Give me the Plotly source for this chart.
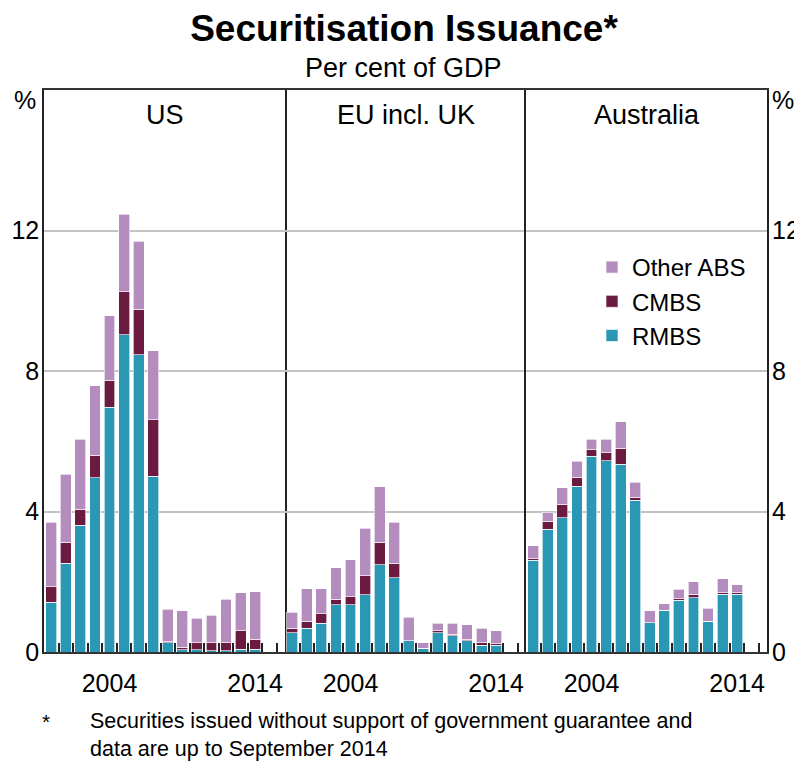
import plotly.graph_objects as go
from plotly.subplots import make_subplots

years = list(range(2000, 2015))
regions = ["US", "EU incl. UK", "Australia"]

# Per cent of GDP
us_rmbs  = [1.42, 2.52, 3.61, 4.96, 6.97, 9.03, 8.46, 5.01, 0.27, 0.06, 0.06, 0.03, 0.03, 0.08, 0.08]
us_cmbs  = [0.44, 0.60, 0.45, 0.64, 0.76, 1.23, 1.30, 1.60, 0.02, 0.07, 0.21, 0.24, 0.24, 0.52, 0.29]
us_other = [1.84, 1.94, 1.99, 1.98, 1.84, 2.20, 1.94, 1.97, 0.93, 1.04, 0.69, 0.77, 1.23, 1.08, 1.35]

eu_rmbs  = [0.55, 0.67, 0.82, 1.35, 1.35, 1.63, 2.48, 2.12, 0.32, 0.10, 0.55, 0.46, 0.32, 0.19, 0.19]
eu_cmbs  = [0.12, 0.20, 0.27, 0.15, 0.23, 0.54, 0.64, 0.41, 0.00, 0.00, 0.05, 0.04, 0.05, 0.08, 0.04]
eu_other = [0.46, 0.93, 0.71, 0.90, 1.04, 1.36, 1.58, 1.17, 0.67, 0.16, 0.22, 0.32, 0.40, 0.40, 0.37]

au_rmbs  = [2.61, 3.50, 3.82, 4.72, 5.57, 5.45, 5.35, 4.32, 0.83, 1.19, 1.47, 1.54, 0.88, 1.64, 1.64]
au_cmbs  = [0.05, 0.22, 0.39, 0.26, 0.19, 0.22, 0.45, 0.08, 0.00, 0.00, 0.04, 0.10, 0.00, 0.05, 0.05]
au_other = [0.36, 0.26, 0.46, 0.45, 0.30, 0.39, 0.76, 0.44, 0.35, 0.19, 0.27, 0.36, 0.36, 0.40, 0.22]

data = [
    (us_rmbs, us_cmbs, us_other),
    (eu_rmbs, eu_cmbs, eu_other),
    (au_rmbs, au_cmbs, au_other),
]
series_names = ["RMBS", "CMBS", "Other ABS"]
colors = {"RMBS": "#2A97B5", "CMBS": "#6B1A40", "Other ABS": "#B48DBE"}

x_labels = [2004, 2014]
y_ticks = [0, 4, 8, 12]
year_bounds = [y + 0.5 for y in years] + [years[-1] + 1.5]

FONT = "Liberation Sans, Arial, sans-serif"
OFF = 8  # default page body margin
PAGE_W, PAGE_H = 802, 769
W, H = PAGE_W - OFF, PAGE_H - OFF
# plot area in page pixels: x 44..767, y 90..652
L, T = 44 - OFF, 90 - OFF
R = W - (767 - OFF)
B = H - (652 - OFF)


def px(xp):
    return (xp - OFF - L) / (W - L - R)


def py(yp):
    return (H - B - (yp - OFF)) / (H - T - B)


fig = make_subplots(rows=1, cols=3, shared_yaxes=True, horizontal_spacing=0)

for i, vals in enumerate(data):
    for name, v in zip(series_names, vals):
        fig.add_trace(
            go.Bar(
                x=years, y=v, name=name,
                marker=dict(color=colors[name], line=dict(color="rgba(255,255,255,0.8)", width=0.8)),
                legendgroup=name, showlegend=(i == 2),
                hoverinfo="skip",
            ),
            row=1, col=i + 1,
        )

fig.update_layout(
    barmode="stack",
    bargap=0.25,
    width=W, height=H,
    margin=dict(l=L, r=R, t=T, b=B, autoexpand=False),
    paper_bgcolor="white", plot_bgcolor="white",
    font=dict(family=FONT, size=25, color="black"),
    showlegend=True,
    legend=dict(
        x=px(592), y=py(245), xanchor="left", yanchor="top",
        traceorder="reversed", bgcolor="rgba(0,0,0,0)",
        font=dict(size=24), itemwidth=30, tracegroupgap=0,
    ),
    title=dict(
        text="<b>Securitisation Issuance*</b>",
        x=((188 + 620) / 2 - OFF) / W, xanchor="center", y=1 - (28 - OFF) / H, yanchor="middle",
        font=dict(size=37, family=FONT, color="black"),
    ),
)

for k in range(1, 4):
    fig.update_xaxes(
        range=[1999.5, 2016.05], automargin=False,
        tickmode="array", tickvals=x_labels, ticktext=[str(v) for v in x_labels],
        ticks="", showgrid=False, zeroline=False,
        showline=True, mirror=True, linecolor="#333", linewidth=1.5,
        tickfont=dict(size=25), ticklabelstandoff=8,
        minor=dict(tickmode="array", tickvals=year_bounds, ticks="inside",
                   ticklen=9, tickwidth=1.5, tickcolor="#222", showgrid=False),
        row=1, col=k,
    )
    fig.update_yaxes(
        range=[0, 16], tickmode="array", tickvals=y_ticks, automargin=False,
        ticks="", showgrid=True, gridcolor="#C3C3C3", gridwidth=1.5,
        zeroline=False, showline=(k != 2), mirror=True, linecolor="#222", linewidth=1.5,
        tickfont=dict(size=25), ticklabelstandoff=-2,
        row=1, col=k,
    )

fig.update_layout(
    yaxis4=dict(
        overlaying="y3", anchor="x3", side="right", range=[0, 16], automargin=False,
        tickmode="array", tickvals=y_ticks, showgrid=False, zeroline=False,
        ticks="", showline=False, tickfont=dict(size=25), ticklabelstandoff=4,
    )
)
fig.add_trace(go.Scatter(x=[], y=[], xaxis="x3", yaxis="y4", showlegend=False, hoverinfo="skip"))

ann = []
ann.append(dict(text="Per cent of GDP", x=px(403), xref="paper", y=py(68), yref="paper",
                xanchor="center", yanchor="middle", showarrow=False, font=dict(size=27)))
panel_w = 1 / 3
for i, r in enumerate(regions):
    ann.append(dict(text=r, x=panel_w * (i + 0.5), xref="paper", y=py(115), yref="paper",
                    xanchor="center", yanchor="middle", showarrow=False, font=dict(size=27)))
ann.append(dict(text="%", x=px(25), xref="paper", y=py(100), yref="paper",
                xanchor="center", yanchor="middle", showarrow=False, font=dict(size=25)))
ann.append(dict(text="%", x=px(783), xref="paper", y=py(100), yref="paper",
                xanchor="center", yanchor="middle", showarrow=False, font=dict(size=25)))
ann.append(dict(text="*", x=px(46), xref="paper", y=py(721), yref="paper",
                xanchor="center", yanchor="middle", showarrow=False, font=dict(size=21)))
ann.append(dict(text="Securities issued without support of government guarantee and<br>data are up to September 2014",
                x=px(88), xref="paper", y=py(735), yref="paper",
                xanchor="left", yanchor="middle", align="left", showarrow=False, font=dict(size=21.5)))
fig.update_layout(annotations=ann)

fig.write_html("out.html")
